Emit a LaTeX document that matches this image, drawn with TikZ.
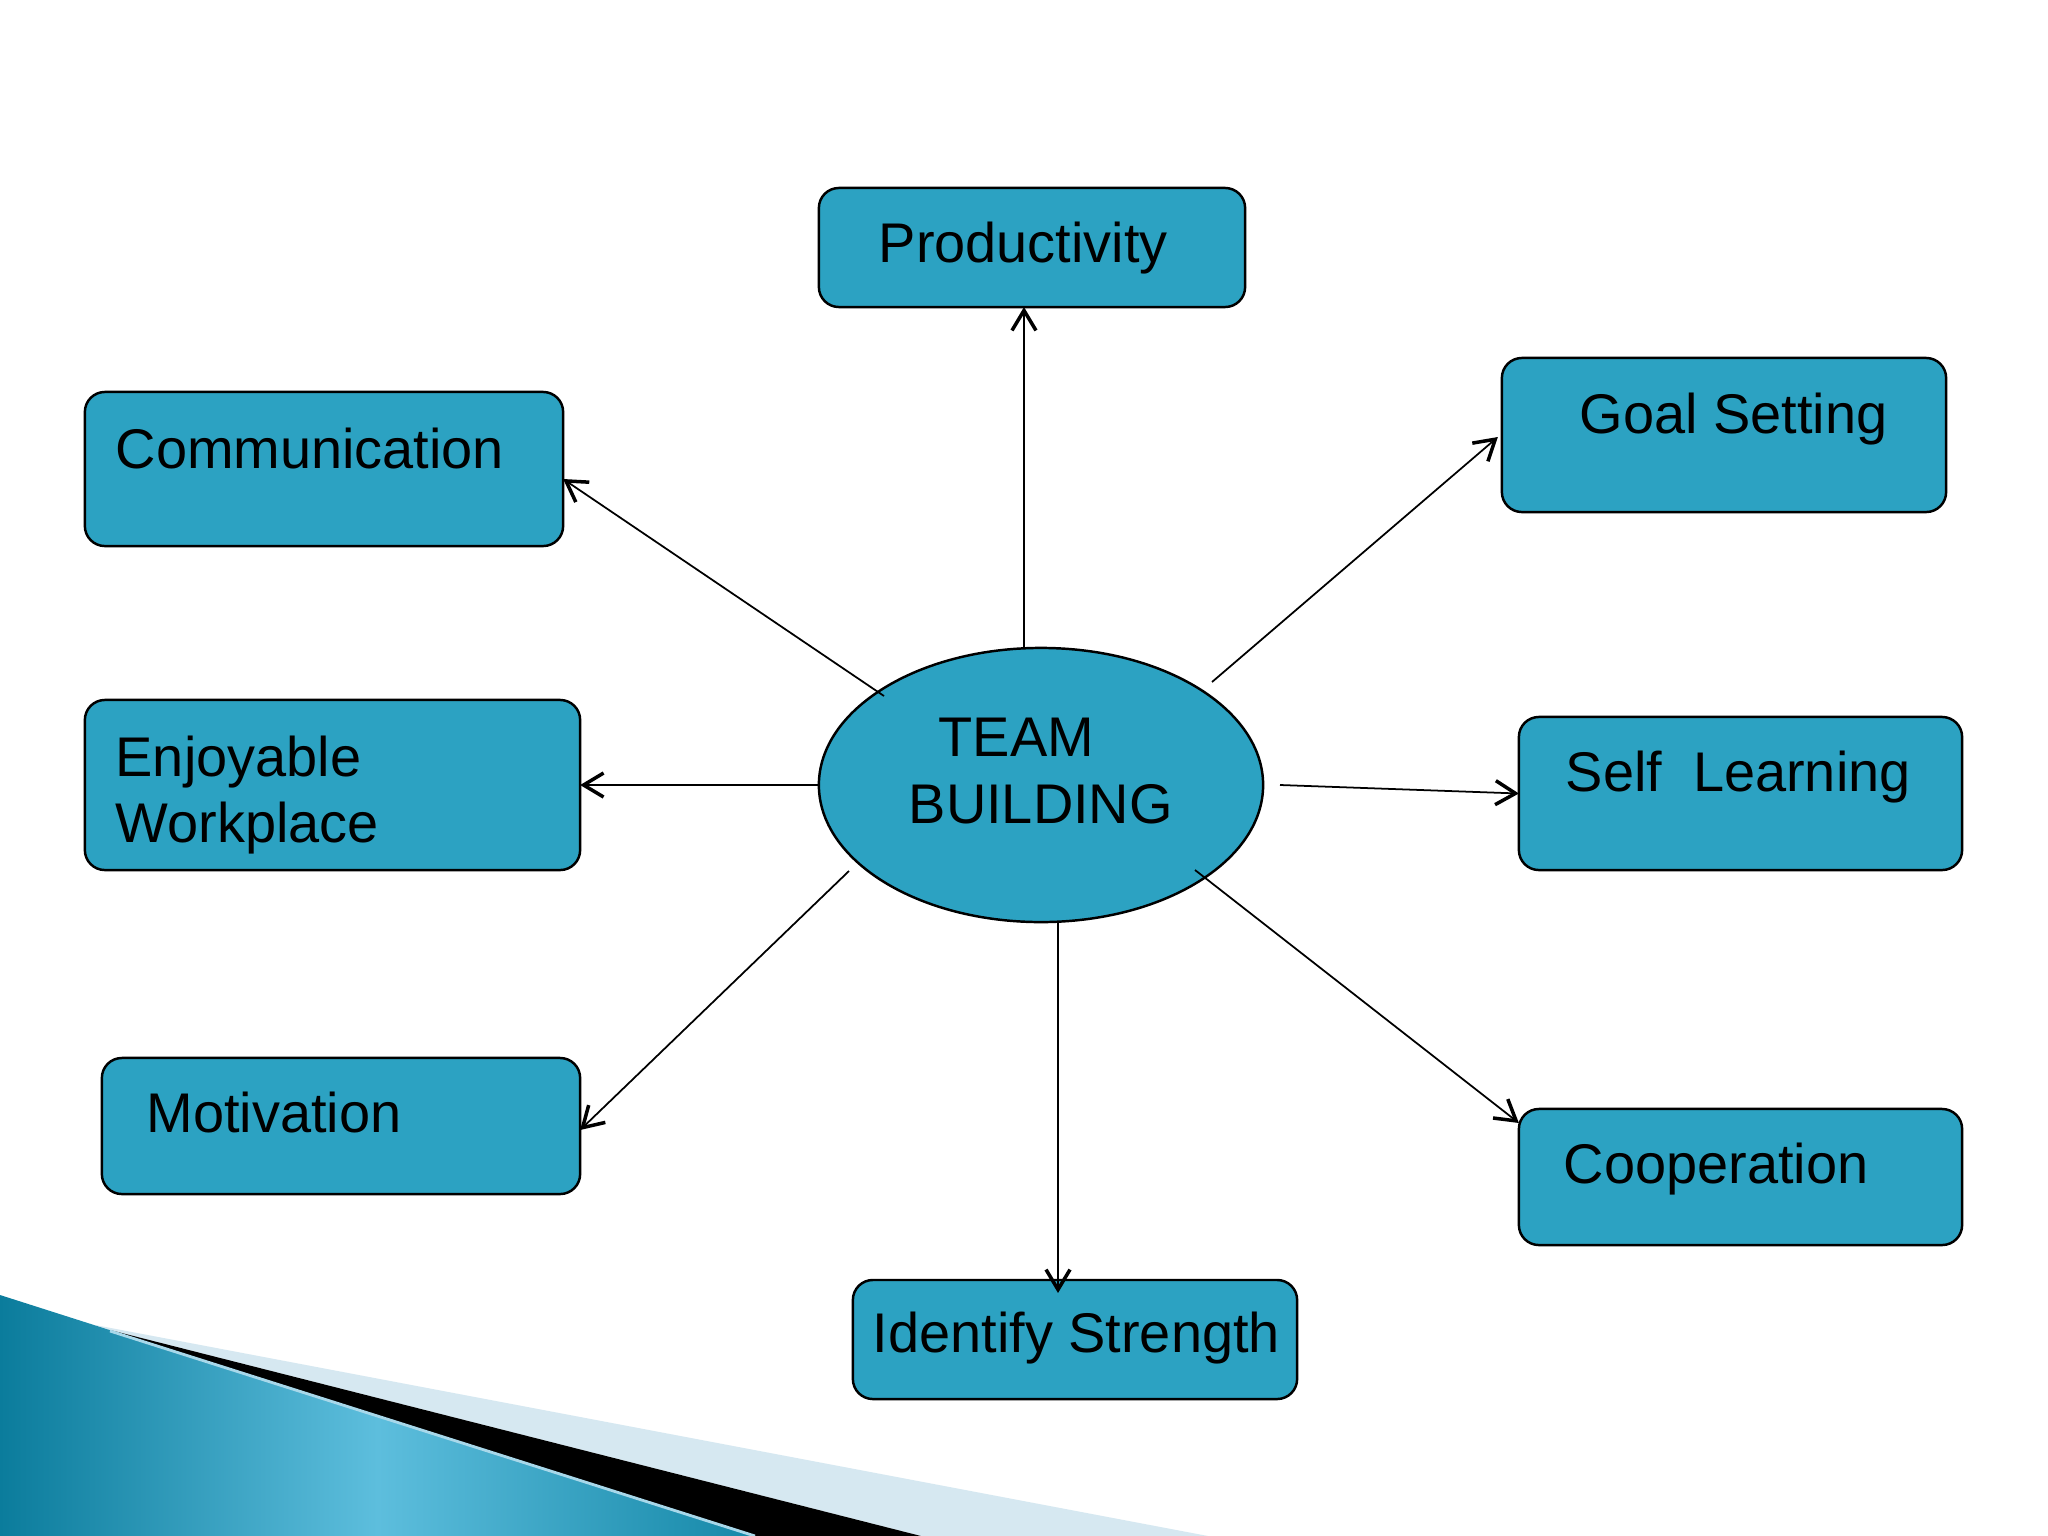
\documentclass[tikz,border=0pt]{standalone}
\usepackage{fontspec}
\setmainfont{Liberation Sans}
\usetikzlibrary{shapes.geometric,arrows.meta}
\definecolor{boxfill}{HTML}{2CA2C2}
\definecolor{tealdark}{HTML}{0B7C9C}
\definecolor{teallight}{HTML}{5DBEDD}
\definecolor{tealend}{HTML}{1588A8}
\definecolor{paleblue}{HTML}{D6E8F1}
\definecolor{hilite}{HTML}{A8D8EA}
\begin{document}
\begin{tikzpicture}[x=0.01cm,y=-0.01cm,
  box/.style={draw=black, line width=0.7pt, fill=boxfill, rectangle, rounded corners=0.2cm, inner sep=0pt, outer sep=0pt},
  lbl/.style={anchor=base west, inner sep=0pt, font=\fontsize{15.9}{19}\selectfont},
  conn/.style={line width=0.5pt, -{Straight Barb[length=0.2cm,width=0.24cm,line width=1pt]}}]
\fill[white] (0,0) rectangle (2048,1536);
\useasboundingbox (0,0) rectangle (2048,1536);

% bottom-left decoration
\fill[paleblue] (95,1325) -- (1208,1536) -- (921,1536) -- (110,1330) -- cycle;
\fill[black] (110,1330) -- (921,1536) -- (755,1536) -- cycle;
\shade[left color=tealdark, right color=tealend, middle color=teallight] (0,1295) -- (755,1536) -- (0,1536) -- cycle;
\draw[hilite, line width=0.8pt] (110,1331) -- (755,1536);

% boxes
\node[box, minimum width=4.26cm, minimum height=1.19cm] (prod) at (1032,247.5) {};
\node[box, minimum width=4.78cm, minimum height=1.54cm] (comm) at (324,469) {};
\node[box, minimum width=4.44cm, minimum height=1.54cm] (goal) at (1724,435) {};
\node[box, minimum width=4.95cm, minimum height=1.70cm] (enjoy) at (332.5,785) {};
\node[box, minimum width=4.43cm, minimum height=1.53cm] (self) at (1740.5,793.5) {};
\node[box, minimum width=4.78cm, minimum height=1.36cm] (motiv) at (341,1126) {};
\node[box, minimum width=4.43cm, minimum height=1.36cm] (coop) at (1740.5,1177) {};
\node[box, minimum width=4.44cm, minimum height=1.19cm] (ident) at (1075,1339.5) {};
\node[draw=black, line width=0.7pt, fill=boxfill, ellipse, minimum width=4.44cm, minimum height=2.74cm, inner sep=0pt, outer sep=0pt] (ell) at (1041,785) {};

% labels
\node[lbl] (prodT) at (878,262) {Productivity};
\node[lbl] (commT) at (115,468) {Communication};
\node[lbl] (goalT) at (1579,433) {Goal Setting};
\node[lbl] (enjoyT1) at (115,776) {Enjoyable};
\node[lbl] (enjoyT2) at (115,842) {Workplace};
\node[lbl] (selfT) at (1565,791) {Self~~Learning};
\node[lbl] (motivT) at (146,1132) {Motivation};
\node[lbl] (coopT) at (1563,1183) {Cooperation};
\node[lbl] (identT) at (872,1352) {Identify Strength};
\node[lbl] (teamT1) at (938,756) {TEAM};
\node[lbl] (teamT2) at (908,823) {BUILDING};

% connector start points
\coordinate (s1) at (1024,648);
\coordinate (s2) at (884,696);
\coordinate (s3) at (1212,682);
\coordinate (s5) at (1280,785);
\coordinate (s6) at (849,871);
\coordinate (s7) at (1195,870);
\coordinate (s8) at (1058,922);

% connectors
\draw[conn] (s1) -- (s1 |- prod.south);
\draw[conn] (s2) -- ([yshift=-0.1cm]comm.east);
\draw[conn] (s3) -- ([yshift=-0.02cm,xshift=-0.04cm]goal.west);
\draw[conn] (ell.west) -- (enjoy.east);
\draw[conn] (s5) -- (self.west);
\draw[conn] (s6) -- ([yshift=-0.04cm]motiv.east);
\draw[conn] (s7) -- ([yshift=-0.14cm]coop.north west);
\draw[conn, shorten >=-0.13cm] (s8) -- (s8 |- ident.north);
\end{tikzpicture}
\end{document}
